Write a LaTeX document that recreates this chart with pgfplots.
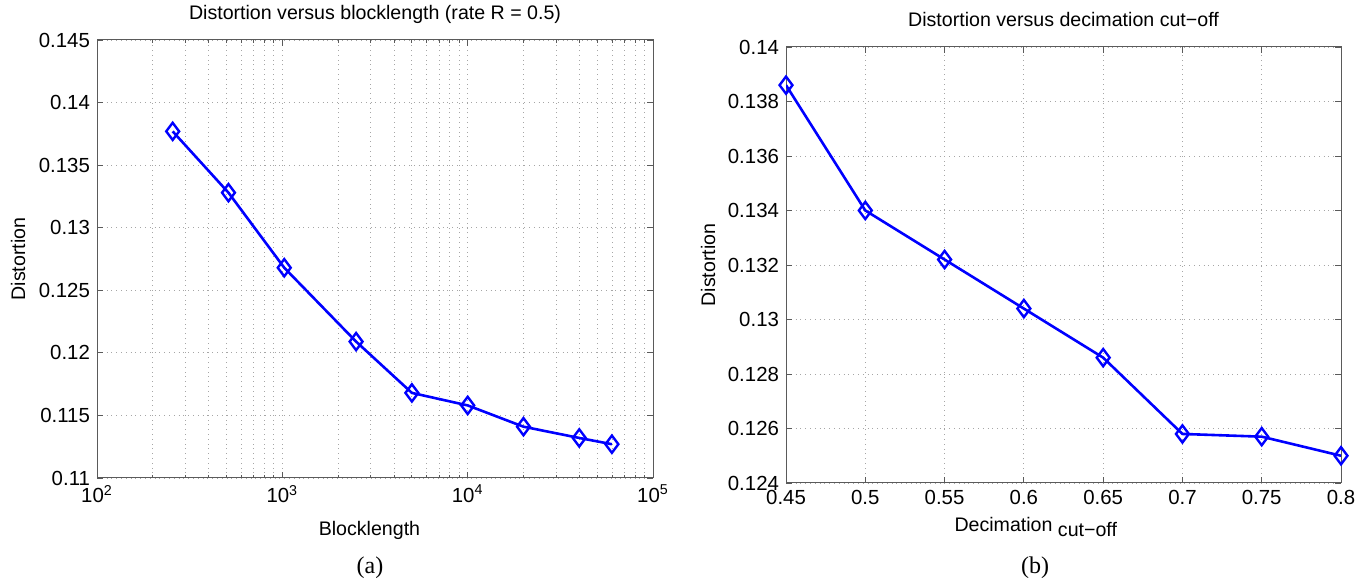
\documentclass[border=0pt]{standalone}
\usepackage{fontspec}
\setmainfont{Liberation Sans}
\newfontfamily\capfont{Liberation Serif}
\usepackage{pgfplots}
\pgfplotsset{compat=1.18}

\definecolor{mblue}{RGB}{0,0,255}
\definecolor{axgray}{RGB}{90,90,90}

\pgfplotsset{
  matlab/.style={
    scale only axis,
    anchor=south west,
    axis line style={axgray, line width=0.5pt},
    every tick/.style={axgray, line width=0.4pt},
    major tick length=3pt,
    minor tick length=1.6pt,
    tick align=inside,
    grid style={dotted, gray!70, line width=0.4pt},
    minor grid style={dotted, gray!70, line width=0.4pt},
    tick label style={font=\fontsize{10.2}{11}\selectfont},
    label style={font=\fontsize{9.8}{11}\selectfont},
    title style={font=\fontsize{9.8}{11}\selectfont},
    /pgf/number format/assume math mode=true,
  },
  dplot/.style={mblue, line width=1.3pt, mark=diamond,
      mark size=4.3pt, mark options={solid, line width=1.2pt, draw=mblue, fill=none}},
}

\begin{document}
\begin{tikzpicture}
\path[use as bounding box] (0,0) rectangle (684pt,291pt);

% (a) distortion vs blocklength
\begin{axis}[matlab,
  at={(48.5pt,52pt)}, width=278pt, height=219pt,
  xmode=log, xmin=100, xmax=100000,
  ymin=0.11, ymax=0.145,
  xtick={100,1000,10000,100000},
  xticklabels={10\textsuperscript{2},10\textsuperscript{3},10\textsuperscript{4},10\textsuperscript{5}},
  ytick={0.11,0.115,0.12,0.125,0.13,0.135,0.14,0.145},
  yticklabels={0.11,0.115,0.12,0.125,0.13,0.135,0.14,0.145},
  xmajorgrids, xminorgrids, ymajorgrids,
  xlabel={Blocklength}, ylabel={Distortion},
  xlabel style={at={(axis description cs:0.49,0)}, anchor=center, yshift=-26pt},
  ylabel style={at={(axis description cs:0,0.5)}, anchor=center, yshift=39.5pt},
  title={Distortion versus blocklength (rate R = 0.5)},
  title style={at={(axis description cs:0.5,1)}, anchor=center, yshift=7pt},
]
\addplot[dplot] coordinates {(256,0.1377) (512,0.1328) (1024,0.1268) (2500,0.1209) (5000,0.1168) (10000,0.1158) (20000,0.1141) (40000,0.1132) (60000,0.1127)};
\end{axis}
\node[font=\capfont\fontsize{12}{14}\selectfont] at (185pt,7pt) {(a)};

% (b) distortion vs decimation cut-off
\begin{axis}[matlab,
  at={(393pt,49.5pt)}, width=277.5pt, height=218pt,
  xmin=0.45, xmax=0.8, ymin=0.124, ymax=0.14,
  xtick={0.45,0.5,0.55,0.6,0.65,0.7,0.75,0.8},
  xticklabels={0.45,0.5,0.55,0.6,0.65,0.7,0.75,0.8},
  ytick={0.124,0.126,0.128,0.13,0.132,0.134,0.136,0.138,0.14},
  yticklabels={0.124,0.126,0.128,0.13,0.132,0.134,0.136,0.138,0.14},
  grid=major,
  xlabel={Decimation \raisebox{-2.5pt}{cut−off}}, ylabel={Distortion},
  xlabel style={at={(axis description cs:0.45,0)}, anchor=center, yshift=-22pt},
  ylabel style={at={(axis description cs:0,0.5)}, anchor=center, yshift=39pt},
  title={Distortion versus decimation cut−off},
  title style={at={(axis description cs:0.5,1)}, anchor=center, yshift=7.5pt},
]
\addplot[dplot] coordinates {(0.45,0.1386) (0.5,0.1340) (0.55,0.1322) (0.6,0.1304) (0.65,0.1286) (0.7,0.1258) (0.75,0.1257) (0.8,0.1250)};
\end{axis}
\node[font=\capfont\fontsize{12}{14}\selectfont] at (517.5pt,7pt) {(b)};
\end{tikzpicture}
\end{document}
